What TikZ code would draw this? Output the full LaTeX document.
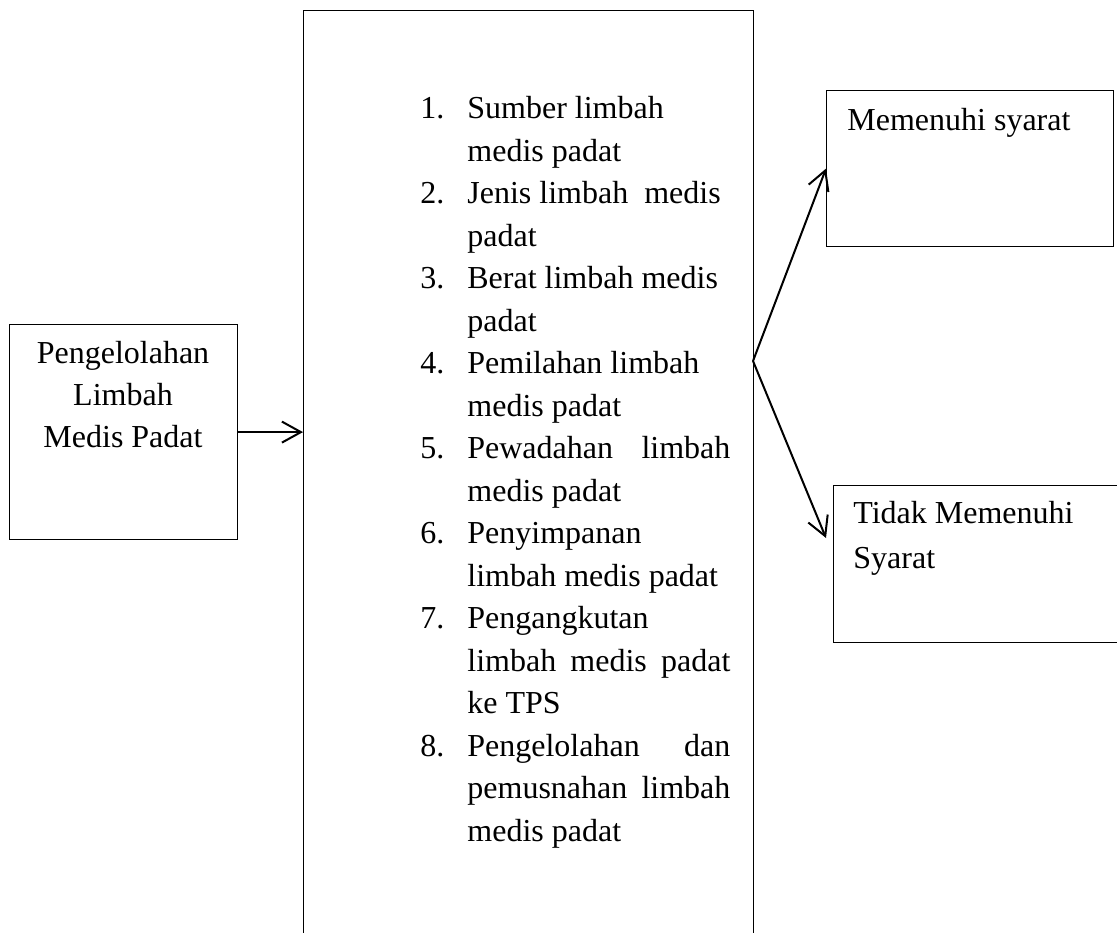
\documentclass[tikz,border=0pt]{standalone}
\usepackage{fontspec}
\setmainfont{Liberation Serif}
\usetikzlibrary{arrows.meta}
\begin{document}
\begin{tikzpicture}[x=0.5pt,y=-0.5pt,
  box/.style={draw, line width=0.6pt, inner sep=0pt, anchor=north west},
  lbl/.style={inner sep=0pt, font=\fontsize{16}{21}\selectfont},
  arr/.style={line width=1pt, -{Straight Barb[length=9.5pt,width=10.5pt,line width=1pt]}}]
\useasboundingbox (0,0) rectangle (1117,932);
\clip (0,0) rectangle (1117,932);
% boxes
\node[box, minimum width=114pt, minimum height=107.5pt] (lbox) at (9,324) {};
\node[box, minimum width=225pt, minimum height=475pt] (mid) at (303,9.5) {};
\node[box, minimum width=143.5pt, minimum height=78pt] (tr) at (826,90) {};
\node[box, minimum width=146pt, minimum height=78.5pt] (br) at (833,485) {};
% texts
\node[lbl, align=center, anchor=north] (ltext) at (123,341) {Pengelolahan\\Limbah\\Medis Padat};
\node[lbl, align=left, anchor=north west, font=\fontsize{16}{21.25}\selectfont] (list) at (420,96) {%
\makebox[23.5pt][l]{1.}Sumber limbah\\
\hspace*{23.5pt}medis padat\\
\makebox[23.5pt][l]{2.}Jenis limbah\ \ medis\\
\hspace*{23.5pt}padat\\
\makebox[23.5pt][l]{3.}Berat limbah medis\\
\hspace*{23.5pt}padat\\
\makebox[23.5pt][l]{4.}Pemilahan limbah\\
\hspace*{23.5pt}medis padat\\
\makebox[23.5pt][l]{5.}\makebox[131.5pt][s]{Pewadahan limbah}\\
\hspace*{23.5pt}medis padat\\
\makebox[23.5pt][l]{6.}Penyimpanan\\
\hspace*{23.5pt}limbah medis padat\\
\makebox[23.5pt][l]{7.}Pengangkutan\\
\hspace*{23.5pt}\makebox[131.5pt][s]{limbah medis padat}\\
\hspace*{23.5pt}ke TPS\\
\makebox[23.5pt][l]{8.}\makebox[131.5pt][s]{Pengelolahan dan}\\
\hspace*{23.5pt}\makebox[131.5pt][s]{pemusnahan limbah}\\
\hspace*{23.5pt}medis padat};
\node[lbl, anchor=north west] (trtext) at (847,108) {Memenuhi syarat};
\node[lbl, align=left, anchor=north west, font=\fontsize{16}{22.5}\selectfont] (brtext) at (853,501) {Tidak Memenuhi\\Syarat};
% connectors
\coordinate (split) at (753,361);
\coordinate (tip2) at (826,538);
\draw[arr] (lbox.east) -- (lbox.east -| mid.west);
\draw[arr] (split) -- (tr.west);
\draw[arr] (split) -- (tip2);
\end{tikzpicture}
\end{document}
